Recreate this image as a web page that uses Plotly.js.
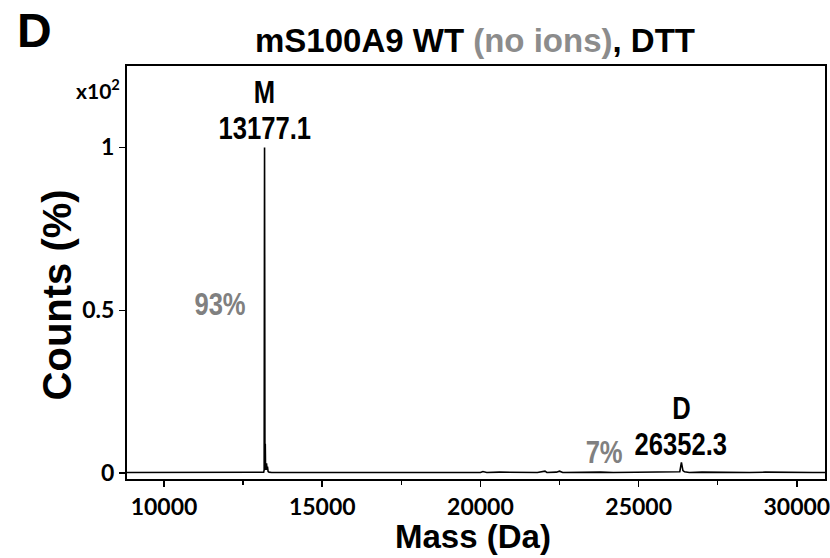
<!DOCTYPE html>
<html>
<head>
<meta charset="utf-8">
<script src="https://cdn.plot.ly/plotly-3.0.1.min.js"></script>
<style>html,body{margin:0;padding:0;background:#fff;}#chart{width:830px;height:558px;}</style>
</head>
<body>
<div id="chart"></div>
<script>
// Deconvoluted mass spectrum (counts in units of x10^2 %)
const mass = [8830, 9200, 9600, 10000, 10400, 10800, 11200, 11600, 12000, 12400, 12800, 13100, 13150, 13165, 13177.1, 13190, 13200, 13210, 13225, 13240, 13255, 13270, 13290, 13320, 13400, 13600, 14000, 14500, 15000, 15500, 16000, 16500, 17000, 17500, 18000, 18500, 19000, 19500, 20000, 20080, 20200, 20600, 21000, 21400, 21800, 22040, 22100, 22400, 22500, 22600, 23000, 23400, 23800, 24200, 24600, 25000, 25400, 25800, 26200, 26300, 26352.3, 26400, 26450, 26500, 26600, 27000, 27500, 28000, 28500, 29000, 29500, 30000, 30500, 30890];
const counts = [0.002, 0.002, 0.002, 0.002, 0.002, 0.002, 0.002, 0.002, 0.002, 0.002, 0.002, 0.002, 0.003, 0.01, 1.0, 0.02, 0.09, 0.01, 0.015, 0.03, 0.01, 0.02, 0.005, 0.003, 0.002, 0.002, 0.002, 0.002, 0.002, 0.002, 0.002, 0.002, 0.002, 0.002, 0.002, 0.002, 0.002, 0.002, 0.002, 0.005, 0.002, 0.003, 0.002, 0.003, 0.002, 0.006, 0.002, 0.003, 0.006, 0.002, 0.003, 0.002, 0.003, 0.002, 0.002, 0.003, 0.002, 0.003, 0.002, 0.004, 0.033, 0.008, 0.004, 0.003, 0.002, 0.003, 0.002, 0.003, 0.002, 0.003, 0.002, 0.003, 0.002, 0.002];

const xTickVals = [10000, 15000, 20000, 25000, 30000];
const yTickVals = [0, 0.5, 1];
const yTickText = ['0', '0.5', '1'];

const peakLabels = [
  {x: 13177.1, y: 1.17, text: 'M', color: '#000'},
  {x: 13177.1, y: 1.06, text: '13177.1', color: '#000'},
  {x: 11770, y: 0.52, text: '93%', color: '#808080'},
  {x: 26352.3, y: 0.20, text: 'D', color: '#000'},
  {x: 26352.3, y: 0.088, text: '26352.3', color: '#000'},
  {x: 23900, y: 0.066, text: '7%', color: '#808080'}
];

const arial = 'Liberation Sans, Arial, sans-serif';
const tickFont = {family: 'Lato, Open Sans, sans-serif', size: 23, color: '#000', weight: 'bold'};

const trace = {
  x: mass, y: counts, type: 'scatter', mode: 'lines',
  line: {color: '#000', width: 1.6}, hoverinfo: 'skip'
};

const annotations = peakLabels.map(p => ({
  x: p.x, y: p.y, xref: 'x', yref: 'y', text: '<b>' + p.text + '</b>', showarrow: false,
  xanchor: 'center', yanchor: 'middle',
  font: {family: arial, size: 32, color: p.color}
}));
annotations.push({
  xref: 'paper', yref: 'paper', x: -0.133, y: 1.087, xanchor: 'center', yanchor: 'middle',
  text: '<b>D</b>', showarrow: false,
  font: {family: arial, size: 48, color: '#000'}
});
annotations.push({
  xref: 'paper', yref: 'paper', x: -0.007, y: 0.945, xanchor: 'right', yanchor: 'middle',
  text: '<b>x10<sup>2</sup></b>', showarrow: false,
  font: {family: 'Lato, sans-serif', size: 21, color: '#000'}
});
annotations.push({
  xref: 'paper', yref: 'paper', x: -0.1, y: 0.445, xanchor: 'center', yanchor: 'middle',
  textangle: -90, text: '<b>Counts (%)</b>', showarrow: false,
  font: {family: arial, size: 40, color: '#000'}
});
annotations.push({
  xref: 'paper', yref: 'paper', x: 0.495, y: -0.14, xanchor: 'center', yanchor: 'middle',
  text: '<b>Mass (Da)</b>', showarrow: false,
  font: {family: arial, size: 33, color: '#000'}
});

const layout = {
  width: 830, height: 558,
  margin: {l: 127, r: 5, t: 66, b: 79},
  paper_bgcolor: '#fff', plot_bgcolor: '#fff',
  showlegend: false,
  title: {
    text: '<b>mS100A9 WT <span style="fill:#8c8c8c">(no ions)</span>, DTT</b>',
    x: 475 / 830, xref: 'container', xanchor: 'center',
    y: 1 - 40 / 558, yref: 'container', yanchor: 'middle',
    font: {family: arial, size: 33, color: '#000'}
  },
  xaxis: {
    range: [8830, 30890], tickvals: xTickVals, ticktext: xTickVals.map(String),
    ticks: 'outside', ticklen: 6, tickwidth: 1.5, tickcolor: '#000',
    ticklabeloverflow: 'allow',
    minor: {dtick: 2500, tick0: 0, ticks: 'outside', ticklen: 4, tickcolor: '#000', showgrid: false},
    showgrid: false, zeroline: false, showline: true, linecolor: '#000', linewidth: 2, mirror: true,
    tickfont: tickFont
  },
  yaxis: {
    range: [-0.018, 1.25], tickvals: yTickVals, ticktext: yTickText,
    ticks: 'outside', ticklen: 6, tickwidth: 1.5, tickcolor: '#000',
    showgrid: false, zeroline: false, showline: true, linecolor: '#000', linewidth: 2, mirror: true,
    tickfont: tickFont
  },
  annotations: annotations
};

Plotly.newPlot('chart', [trace], layout, {displayModeBar: false, staticPlot: true}).then(gd => {
  // condense the peak-label texts horizontally, as in the reference
  const anns = gd.querySelectorAll('.annotation');
  for (let i = 0; i < peakLabels.length && i < anns.length; i++) {
    const t = anns[i].querySelector('text.annotation-text');
    if (t) {
      t.style.transformBox = 'fill-box';
      t.style.transformOrigin = 'center';
      t.style.transform = 'scaleX(0.8)';
    }
  }
});
</script>
</body>
</html>
